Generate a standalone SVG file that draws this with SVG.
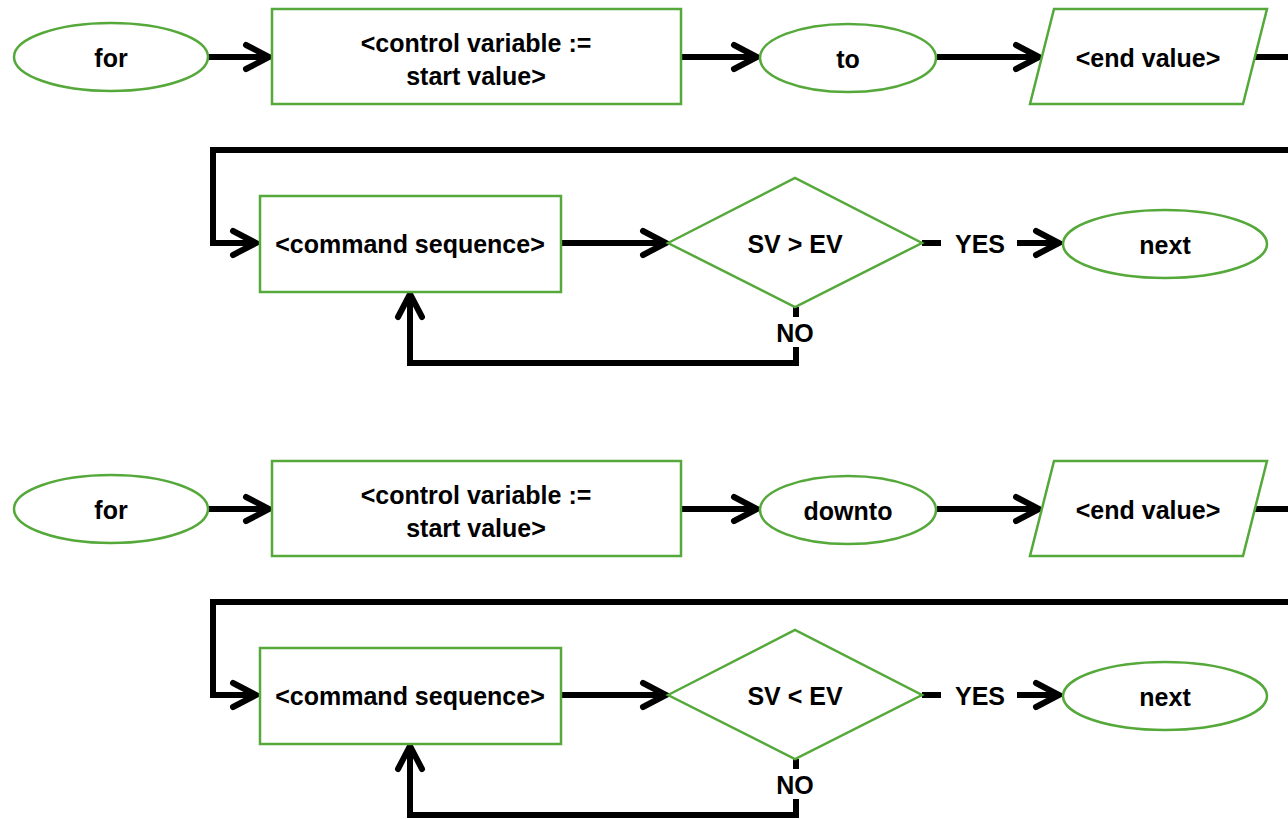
<svg xmlns="http://www.w3.org/2000/svg" width="1288" height="819" viewBox="0 0 1288 819">
<style>
.n{fill:#fff;stroke:#55a83a;stroke-width:2.5}
.t{font-family:"Liberation Sans",Arial,sans-serif;font-weight:bold;font-size:25px;fill:#000;text-anchor:middle;dominant-baseline:central}
.c{fill:none;stroke:#000;stroke-width:6;stroke-linejoin:miter}
</style>
<defs>
<marker id="ah" markerUnits="userSpaceOnUse" viewBox="-32 -18 36 36" markerWidth="36" markerHeight="36" refX="0" refY="0" orient="auto" overflow="visible">
<path d="M-24,-12 L-1,0 L-24,12" fill="none" stroke="#000" stroke-width="6" stroke-linecap="round" stroke-linejoin="miter"/>
</marker>
</defs>
<rect width="1288" height="819" fill="#fff"/>
<g id="connectors">
<line class="c" x1="208" y1="57" x2="270" y2="57" marker-end="url(#ah)"/>
<line class="c" x1="681" y1="57" x2="758" y2="57" marker-end="url(#ah)"/>
<line class="c" x1="937" y1="57" x2="1040" y2="57" marker-end="url(#ah)"/>
<line class="c" x1="1255" y1="57" x2="1290" y2="57"/>
<polyline class="c" points="1290,150 213,150 213,243 257,243" marker-end="url(#ah)"/>
<line class="c" x1="561" y1="243" x2="667" y2="243" marker-end="url(#ah)"/>
<line class="c" x1="922" y1="243" x2="941" y2="243"/>
<line class="c" x1="1017" y1="243" x2="1060" y2="243" marker-end="url(#ah)"/>
<line class="c" x1="796" y1="307" x2="796" y2="317"/>
<polyline class="c" points="796,347 796,363 410,363 410,293" marker-end="url(#ah)"/>

<line class="c" x1="208" y1="509" x2="270" y2="509" marker-end="url(#ah)"/>
<line class="c" x1="681" y1="509" x2="758" y2="509" marker-end="url(#ah)"/>
<line class="c" x1="937" y1="509" x2="1040" y2="509" marker-end="url(#ah)"/>
<line class="c" x1="1255" y1="509" x2="1290" y2="509"/>
<polyline class="c" points="1290,602 213,602 213,695 257,695" marker-end="url(#ah)"/>
<line class="c" x1="561" y1="695" x2="667" y2="695" marker-end="url(#ah)"/>
<line class="c" x1="922" y1="695" x2="941" y2="695"/>
<line class="c" x1="1017" y1="695" x2="1060" y2="695" marker-end="url(#ah)"/>
<line class="c" x1="796" y1="759" x2="796" y2="769"/>
<polyline class="c" points="796,799 796,815 410,815 410,745" marker-end="url(#ah)"/>
</g>

<g id="for1"><ellipse class="n" cx="111" cy="57" rx="97" ry="34"/><text class="t" x="111" y="58">for</text></g>
<g id="init1"><rect class="n" x="272" y="9" width="409" height="95"/><text class="t" x="476" y="43">&lt;control variable :=</text><text class="t" x="476" y="76">start value&gt;</text></g>
<g id="to1"><ellipse class="n" cx="848" cy="58" rx="88" ry="34"/><text class="t" x="848" y="59">to</text></g>
<g id="end1"><polygon class="n" points="1054,9 1267,9 1243,104 1030,104"/><text class="t" x="1148" y="58">&lt;end value&gt;</text></g>
<g id="cmd1"><rect class="n" x="260" y="196" width="301" height="96"/><text class="t" x="410" y="244">&lt;command sequence&gt;</text></g>
<g id="dec1"><polygon class="n" points="668,243 795,178 922,243 795,307"/><text class="t" x="795" y="244">SV &gt; EV</text></g>
<g id="yes1"><text class="t" x="980" y="244">YES</text></g>
<g id="no1"><text class="t" x="795" y="333">NO</text></g>
<g id="next1"><ellipse class="n" cx="1165" cy="244" rx="102" ry="34"/><text class="t" x="1165" y="245">next</text></g>

<g id="for2"><ellipse class="n" cx="111" cy="509" rx="97" ry="34"/><text class="t" x="111" y="510">for</text></g>
<g id="init2"><rect class="n" x="272" y="461" width="409" height="95"/><text class="t" x="476" y="495">&lt;control variable :=</text><text class="t" x="476" y="528">start value&gt;</text></g>
<g id="downto2"><ellipse class="n" cx="848" cy="510" rx="88" ry="34"/><text class="t" x="848" y="511">downto</text></g>
<g id="end2"><polygon class="n" points="1054,461 1267,461 1243,556 1030,556"/><text class="t" x="1148" y="510">&lt;end value&gt;</text></g>
<g id="cmd2"><rect class="n" x="260" y="648" width="301" height="96"/><text class="t" x="410" y="696">&lt;command sequence&gt;</text></g>
<g id="dec2"><polygon class="n" points="668,695 795,630 922,695 795,759"/><text class="t" x="795" y="696">SV &lt; EV</text></g>
<g id="yes2"><text class="t" x="980" y="696">YES</text></g>
<g id="no2"><text class="t" x="795" y="785">NO</text></g>
<g id="next2"><ellipse class="n" cx="1165" cy="696" rx="102" ry="34"/><text class="t" x="1165" y="697">next</text></g>
</svg>
